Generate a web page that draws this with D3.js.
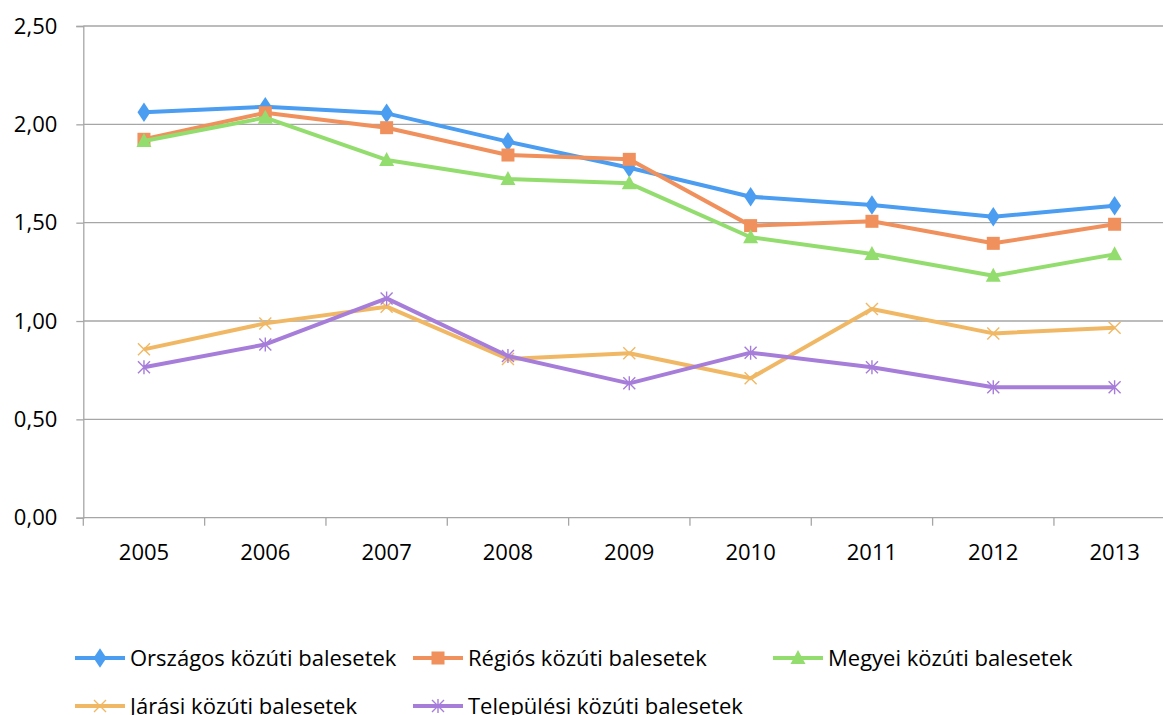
<!DOCTYPE html>
<html>
<head>
<meta charset="utf-8">
<script src="https://cdn.jsdelivr.net/npm/d3@7"></script>
<style>
  html, body { margin: 0; padding: 0; background: #fff; overflow: hidden; }
  svg { display: block; }
  text { font-family: "Open Sans", "Liberation Sans", sans-serif; fill: #000; }
</style>
</head>
<body>
<svg id="chart" width="1163" height="715"></svg>
<script>
// Years on the category axis
const years = ["2005", "2006", "2007", "2008", "2009", "2010", "2011", "2012", "2013"];

// Series values per year
const orszagos   = [2.061, 2.089, 2.056, 1.912, 1.779, 1.632, 1.590, 1.530, 1.586];
const regios     = [1.924, 2.059, 1.983, 1.844, 1.822, 1.485, 1.507, 1.395, 1.492];
const megyei     = [1.915, 2.034, 1.819, 1.722, 1.700, 1.426, 1.341, 1.230, 1.339];
const jarasi     = [0.856, 0.988, 1.073, 0.807, 0.836, 0.709, 1.061, 0.937, 0.966];
const telepulesi = [0.765, 0.881, 1.115, 0.822, 0.683, 0.839, 0.765, 0.663, 0.663];

// Series names
const seriesNames = [
  "Országos közúti balesetek",
  "Régiós közúti balesetek",
  "Megyei közúti balesetek",
  "Járási közúti balesetek",
  "Települési közúti balesetek"
];

// Value axis ticks
const yTicks = [0, 0.5, 1.0, 1.5, 2.0, 2.5];

const seriesValues = [orszagos, regios, megyei, jarasi, telepulesi];
const colors = ["#4a9df0", "#f0905c", "#93dd6f", "#f0b864", "#a77dda"];
const markers = ["diamond", "square", "triangle", "x", "star"];

const svg = d3.select("#chart");

const left = 83.3, bandW = 121.33;
const x = d3.scalePoint().domain(years).range([left, left + bandW * years.length]).padding(0.5);
const y = d3.scaleLinear().domain([0, 2.5]).range([517.7, 26]);
const fmt = v => d3.format(".2f")(v).replace(".", ",");

// Horizontal gridlines
svg.append("g")
  .selectAll("line")
  .data(yTicks.filter(d => d > 0))
  .join("line")
  .attr("x1", left).attr("x2", left + bandW * years.length)
  .attr("y1", d => y(d)).attr("y2", d => y(d))
  .attr("stroke", "#a6a6a6").attr("stroke-width", 1.3);

// Value axis
const yAxis = svg.append("g")
  .attr("transform", `translate(${left},0)`)
  .call(d3.axisLeft(y).tickValues(yTicks).tickFormat(fmt).tickSize(7).tickPadding(19));
yAxis.select(".domain").attr("stroke", "#a6a6a6").attr("stroke-width", 1.3);
yAxis.selectAll(".tick line").attr("stroke", "#a6a6a6").attr("stroke-width", 1.3);
yAxis.selectAll(".tick text").style("font-size", "22px").style("font-family", null);

// Category axis with ticks between categories
const xBand = d3.scaleBand().domain(years).range([left, left + bandW * years.length]);
const xAxisG = svg.append("g").attr("transform", `translate(0,${y(0)})`);
xAxisG.append("line")
  .attr("x1", left).attr("x2", left + bandW * years.length)
  .attr("stroke", "#a6a6a6").attr("stroke-width", 1.3);
xAxisG.selectAll("line.tk")
  .data(years.map(d => xBand(d)))
  .join("line").attr("class", "tk")
  .attr("x1", d => d).attr("x2", d => d)
  .attr("y1", 0).attr("y2", 8)
  .attr("stroke", "#a6a6a6").attr("stroke-width", 1.3);
xAxisG.selectAll("text")
  .data(years)
  .join("text")
  .attr("x", d => x(d))
  .attr("y", 42)
  .attr("text-anchor", "middle")
  .style("font-size", "22px")
  .text(d => d);

// Marker shapes
function drawMarker(g, type, color, cx, cy) {
  if (type === "diamond") {
    g.append("path").attr("d", d3.symbol(d3.symbolDiamond, 110)()).attr("transform", `translate(${cx},${cy}) scale(1.15,1)`).attr("fill", color);
  } else if (type === "square") {
    g.append("rect").attr("x", cx - 6.5).attr("y", cy - 6.5).attr("width", 13).attr("height", 13).attr("fill", color);
  } else if (type === "triangle") {
    g.append("path").attr("d", `M${cx},${cy - 8}L${cx + 7.5},${cy + 6}L${cx - 7.5},${cy + 6}Z`).attr("fill", color);
  } else if (type === "x") {
    g.append("path").attr("d", `M${cx - 6},${cy - 6}L${cx + 6},${cy + 6}M${cx - 6},${cy + 6}L${cx + 6},${cy - 6}`)
      .attr("stroke", color).attr("stroke-width", 1.4).attr("fill", "none");
  } else if (type === "star") {
    g.append("path").attr("d", `M${cx - 6},${cy - 6}L${cx + 6},${cy + 6}M${cx - 6},${cy + 6}L${cx + 6},${cy - 6}M${cx},${cy - 7}L${cx},${cy + 7}`)
      .attr("stroke", color).attr("stroke-width", 1.4).attr("fill", "none");
  }
}

// Series lines and markers
const line = d3.line().x((d, i) => x(years[i])).y(d => y(d));
seriesValues.forEach((vals, s) => {
  const g = svg.append("g");
  g.append("path").datum(vals)
    .attr("d", line)
    .attr("fill", "none")
    .attr("stroke", colors[s])
    .attr("stroke-width", 4)
    .attr("stroke-linejoin", "round");
  vals.forEach((v, i) => drawMarker(g, markers[s], colors[s], x(years[i]), y(v)));
});

// Legend
const legendPos = [
  { lx: 75, tx: 130, cy: 658 },
  { lx: 413, tx: 468, cy: 658 },
  { lx: 773, tx: 828, cy: 658 },
  { lx: 75, tx: 130, cy: 706 },
  { lx: 413, tx: 468, cy: 706 }
];
seriesNames.forEach((name, s) => {
  const p = legendPos[s];
  const g = svg.append("g");
  g.append("line")
    .attr("x1", p.lx).attr("x2", p.lx + 50)
    .attr("y1", p.cy).attr("y2", p.cy)
    .attr("stroke", colors[s]).attr("stroke-width", 4);
  drawMarker(g, markers[s], colors[s], p.lx + 25, p.cy);
  g.append("text")
    .attr("x", p.tx).attr("y", p.cy + 8)
    .style("font-size", "22px")
    .text(name);
});
</script>
</body>
</html>
